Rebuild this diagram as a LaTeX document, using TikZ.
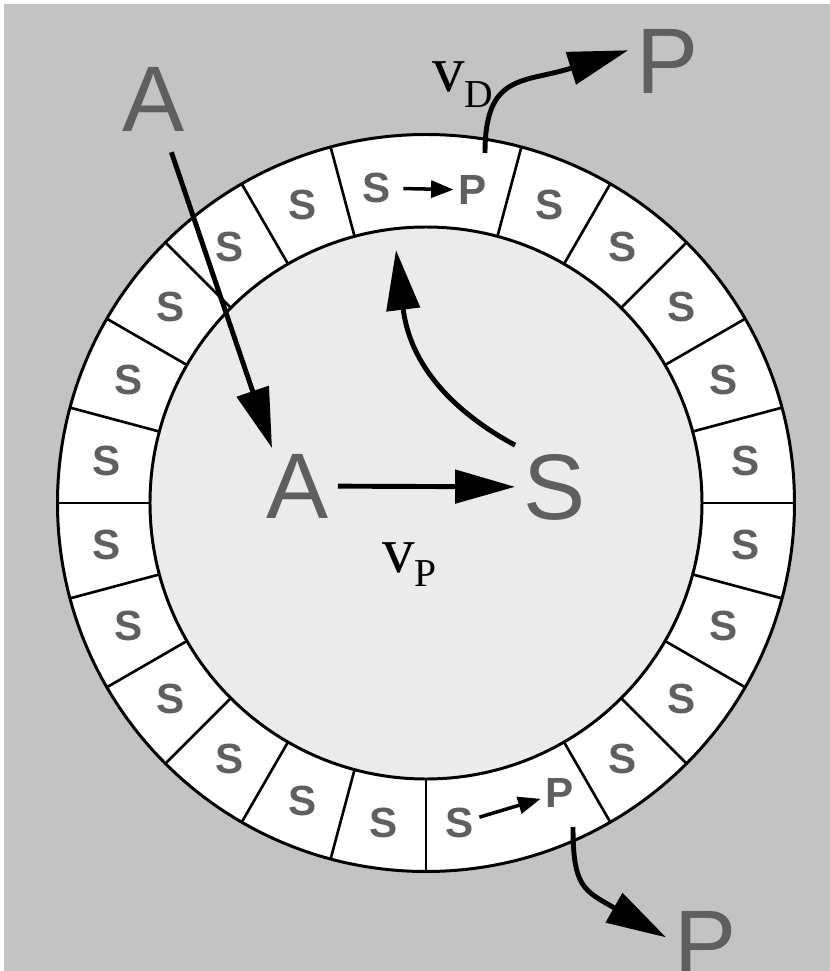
\documentclass[tikz,border=0pt]{standalone}
\usepackage{fontspec}
\setmainfont{Liberation Sans}
\newfontfamily\ratefont{Liberation Serif}
\usetikzlibrary{arrows.meta}
\definecolor{bggray}{HTML}{C3C3C3}
\definecolor{cellgray}{HTML}{EBEBEB}
\definecolor{lettergray}{HTML}{5F5F5F}

\begin{document}
\begin{tikzpicture}[
    bigletter/.style={text=lettergray, font=\fontsize{53}{60}\selectfont, inner sep=0.17cm},
    seglabel/.style={text=lettergray, font=\bfseries\fontsize{24}{28}\selectfont, inner sep=0.1cm},
    bigarrow/.style={line width=2.8pt, -{Triangle[length=1.2cm, width=0.66cm]}},
    smallarrow/.style={line width=2pt, -{Triangle[length=0.45cm, width=0.34cm]}},
    rate/.style={inner sep=0, anchor=base west, font=\ratefont\fontsize{37}{42}\selectfont}
  ]
  \useasboundingbox (-8.52,-9.36) rectangle (8.08,10.06);
  \fill[white] (-8.52,-9.36) rectangle (8.08,10.06);
  \fill[bggray] (-8.44,-9.36) rectangle (8.08,9.98);

  % ring of cells
  \filldraw[fill=white, line width=1.7pt] (0,0) circle (7.37);
  \filldraw[fill=cellgray, line width=1.7pt] (0,0) circle (5.52);
  \foreach \a in {0,15,30,45,60,75,105,120,135,150,165,180,195,210,225,240,255,270,300,315,330,345}
    \draw[line width=1.5pt] (\a:5.52) -- (\a:7.37);

  \foreach \a [count=\i] in {7.5,22.5,37.5,52.5,67.5,112.5,127.5,142.5,157.5,172.5,187.5,202.5,217.5,232.5,247.5,262.5,307.5,322.5,337.5,352.5}
    \node[seglabel] (cell\i) at (\a:6.445) {S};

  \node[seglabel] (sTop) at (-0.98,6.3) {S};
  \node[seglabel] (pTop) at (0.94,6.26) {P};
  \node[seglabel] (sBot) at (0.68,-6.4) {S};
  \node[seglabel] (pBot) at (2.68,-5.8) {P};

  \draw[smallarrow, shorten <=0.14cm] (sTop) -- (pTop);
  \draw[smallarrow] (sBot) -- (pBot);

  % substrates and products
  \node[bigletter] (aOut) at (-5.45,8.07) {A};
  \node[bigletter] (aIn) at (-2.56,0.34) {A};
  \node[bigletter] (sIn) at (2.58,0.32) {S};
  \node[bigletter] (pOutTop) at (4.84,8.84) {P};
  \node[bigletter] (pOutBot) at (5.6,-8.8) {P};

  \node[rate] (vD) at (0.12,8.22) {v\raisebox{-9pt}{\fontsize{22.5}{25}\selectfont D}};
  \node[rate] (vP) at (-0.88,-1.38) {v\raisebox{-8.5pt}{\fontsize{22.5}{25}\selectfont P}};

  \coordinate (aEntry) at (-3.08,1.1);
  \coordinate (cellEntry) at (-0.6,5.06);
  \coordinate (exitTop) at (1.18,7.0);
  \coordinate (exitBot) at (2.94,-6.48);

  \draw[bigarrow, shorten <=0.25cm] (aOut) -- (aEntry);
  \draw[bigarrow] (aIn) -- (sIn);
  \draw[bigarrow] (sIn.north west) .. controls +(-1.02,0.55) and +(0.3,-2.46) .. (cellEntry);
  \draw[bigarrow] (exitTop) .. controls +(0,1.6) and +(-2.1,-0.66) .. (pOutTop.165);
  \draw[bigarrow] (exitBot) .. controls +(0,-1.2) and +(-1.65,0.94) .. (pOutBot.172);
\end{tikzpicture}
\end{document}
